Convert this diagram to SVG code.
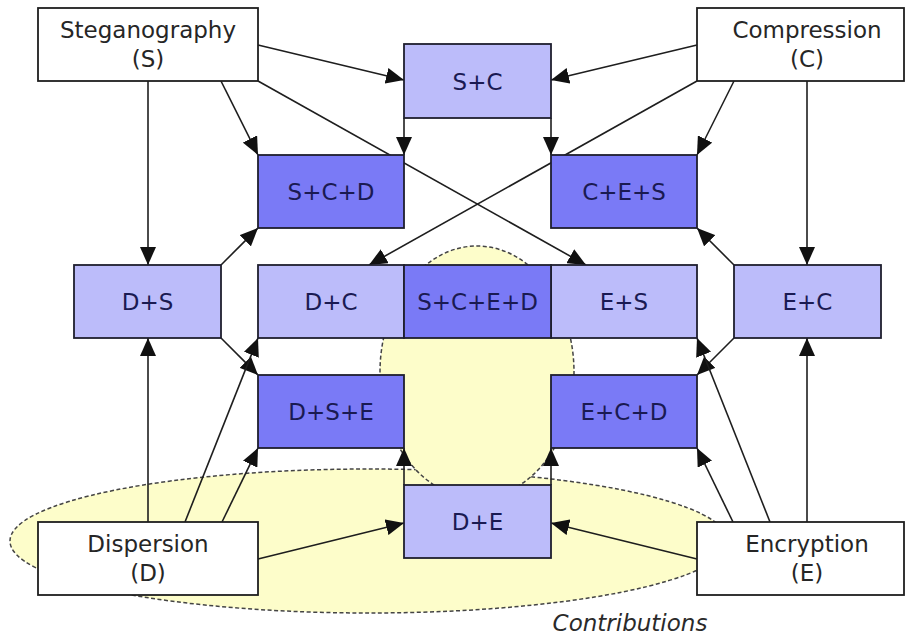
<svg xmlns="http://www.w3.org/2000/svg" width="905" height="637" viewBox="0 0 905 637">
  <style>
    .bg { fill: #ffffff; }
    .zone { fill: #fdfdca; stroke: #444444; stroke-width: 1.5; stroke-dasharray: 4 2.5; }
    .edge { fill: none; stroke: #1e1e1e; stroke-width: 1.6; marker-end: url(#arrow); }
    .base { fill: #ffffff; stroke: #1e1e1e; stroke-width: 1.8; }
    .pair { fill: #bcbcfa; stroke: #1e1e2e; stroke-width: 1.8; }
    .triple { fill: #7a7af6; stroke: #1e1e2e; stroke-width: 1.8; }
    text { font-family: "DejaVu Sans", "Liberation Sans", sans-serif; font-size: 23px; text-anchor: middle; }
    .dark { fill: #262626; }
    .navy { fill: #1a1a52; }
    .note { font-style: italic; fill: #2a2a2a; }
  </style>
  <defs>
    <marker id="arrow" markerUnits="userSpaceOnUse" markerWidth="18" markerHeight="16" refX="18" refY="8" orient="auto">
      <path d="M0,0 L18,8 L0,16 z" fill="#111111"/>
    </marker>
  </defs>

  <rect class="bg" x="0" y="0" width="905" height="637"/>

  <!-- shaded contribution zones -->
  <g id="zones">
    <ellipse class="zone" cx="369" cy="541" rx="359" ry="72"/>
    <ellipse class="zone" cx="477" cy="372" rx="97" ry="126"/>
  </g>

  <!-- connectors -->
  <g id="connectors">
    <line class="edge" x1="258" y1="45" x2="404" y2="80"/>
    <line class="edge" x1="697" y1="45" x2="551" y2="80"/>
    <line class="edge" x1="221" y1="81" x2="258" y2="155"/>
    <line class="edge" x1="734" y1="81" x2="697" y2="155"/>
    <line class="edge" x1="258" y1="81" x2="586" y2="265"/>
    <line class="edge" x1="697" y1="81" x2="369" y2="265"/>
    <line class="edge" x1="148" y1="81" x2="148" y2="265"/>
    <line class="edge" x1="807" y1="81" x2="807" y2="265"/>
    <line class="edge" x1="404" y1="118" x2="404" y2="155"/>
    <line class="edge" x1="551" y1="118" x2="551" y2="155"/>
    <line class="edge" x1="221" y1="265" x2="258" y2="228"/>
    <line class="edge" x1="734" y1="265" x2="697" y2="228"/>
    <line class="edge" x1="221" y1="338" x2="258" y2="375"/>
    <line class="edge" x1="734" y1="338" x2="697" y2="375"/>
    <line class="edge" x1="148" y1="522" x2="148" y2="338"/>
    <line class="edge" x1="807" y1="522" x2="807" y2="338"/>
    <line class="edge" x1="185" y1="522" x2="258" y2="338"/>
    <line class="edge" x1="770" y1="522" x2="697" y2="338"/>
    <line class="edge" x1="222" y1="522" x2="258" y2="448"/>
    <line class="edge" x1="733" y1="522" x2="697" y2="448"/>
    <line class="edge" x1="258" y1="559" x2="404" y2="523"/>
    <line class="edge" x1="697" y1="559" x2="551" y2="523"/>
    <line class="edge" x1="404" y1="485" x2="404" y2="448"/>
    <line class="edge" x1="551" y1="485" x2="551" y2="448"/>
  </g>

  <!-- base techniques -->
  <g id="steganography">
    <rect class="base" x="38" y="8" width="220" height="73"/>
    <text class="dark" x="148" y="38">Steganography</text>
    <text class="dark" x="148" y="67">(S)</text>
  </g>
  <g id="compression">
    <rect class="base" x="697" y="8" width="207" height="73"/>
    <text class="dark" x="807" y="38">Compression</text>
    <text class="dark" x="807" y="67">(C)</text>
  </g>
  <g id="dispersion">
    <rect class="base" x="38" y="522" width="220" height="73"/>
    <text class="dark" x="148" y="552">Dispersion</text>
    <text class="dark" x="148" y="581">(D)</text>
  </g>
  <g id="encryption">
    <rect class="base" x="697" y="522" width="207" height="73"/>
    <text class="dark" x="807" y="552">Encryption</text>
    <text class="dark" x="807" y="581">(E)</text>
  </g>

  <!-- pairs -->
  <g id="s-c">
    <rect class="pair" x="404" y="44" width="147" height="74"/>
    <text class="navy" x="477.5" y="89.5">S+C</text>
  </g>
  <g id="d-s">
    <rect class="pair" x="74" y="265" width="147" height="73"/>
    <text class="navy" x="147.5" y="310">D+S</text>
  </g>
  <g id="d-c">
    <rect class="pair" x="258" y="265" width="146" height="73"/>
    <text class="navy" x="331" y="310">D+C</text>
  </g>
  <g id="e-s">
    <rect class="pair" x="551" y="265" width="146" height="73"/>
    <text class="navy" x="624" y="310">E+S</text>
  </g>
  <g id="e-c">
    <rect class="pair" x="734" y="265" width="147" height="73"/>
    <text class="navy" x="807.5" y="310">E+C</text>
  </g>
  <g id="d-e">
    <rect class="pair" x="404" y="485" width="147" height="73"/>
    <text class="navy" x="477.5" y="530">D+E</text>
  </g>

  <!-- triples and the full combination -->
  <g id="s-c-d">
    <rect class="triple" x="258" y="155" width="146" height="73"/>
    <text class="navy" x="331" y="200">S+C+D</text>
  </g>
  <g id="c-e-s">
    <rect class="triple" x="551" y="155" width="146" height="73"/>
    <text class="navy" x="624" y="200">C+E+S</text>
  </g>
  <g id="s-c-e-d">
    <rect class="triple" x="404" y="265" width="147" height="73"/>
    <text class="navy" x="477.5" y="310">S+C+E+D</text>
  </g>
  <g id="d-s-e">
    <rect class="triple" x="258" y="375" width="146" height="73"/>
    <text class="navy" x="331" y="420">D+S+E</text>
  </g>
  <g id="e-c-d">
    <rect class="triple" x="551" y="375" width="146" height="73"/>
    <text class="navy" x="624" y="420">E+C+D</text>
  </g>

  <text class="note" x="630" y="631">Contributions</text>
</svg>
